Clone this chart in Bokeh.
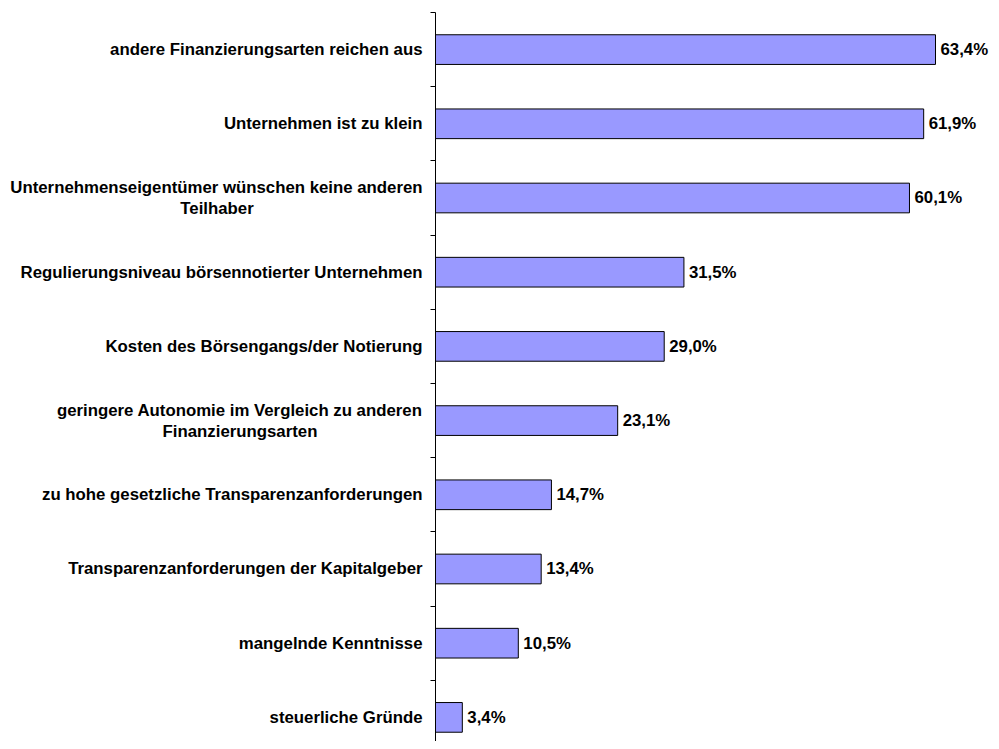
from bokeh.plotting import figure
from bokeh.models import Range1d, FixedTicker, ColumnDataSource
from bokeh.core.properties import value
from bokeh.embed import file_html
from bokeh.resources import INLINE

categories = [
    "andere Finanzierungsarten reichen aus",
    "Unternehmen ist zu klein",
    "Unternehmenseigentümer wünschen keine anderen\nTeilhaber",
    "Regulierungsniveau börsennotierter Unternehmen",
    "Kosten des Börsengangs/der Notierung",
    "geringere Autonomie im Vergleich zu anderen\nFinanzierungsarten",
    "zu hohe gesetzliche Transparenzanforderungen",
    "Transparenzanforderungen der Kapitalgeber",
    "mangelnde Kenntnisse",
    "steuerliche Gründe",
]
values = [63.4, 61.9, 60.1, 31.5, 29.0, 23.1, 14.7, 13.4, 10.5, 3.4]
value_labels = ["63,4%", "61,9%", "60,1%", "31,5%", "29,0%", "23,1%", "14,7%", "13,4%", "10,5%", "3,4%"]

FONT = "Liberation Sans"
FS = "16.8px"
STANDOFF = 13          # gap between label block and axis (px)
LINE_GAP = 10.5        # half line spacing for two-line labels (px)
# rendered width (px) of the first line of the two-line labels, to centre the second line under it
FIRST_LINE_WIDTH = {2: 411, 5: 365}

pos = list(range(len(categories)))
src = ColumnDataSource(dict(y=pos, v=values, lab=value_labels))

# category label lines (first line right-aligned, second line centred under the first)
l1_y, l1_t, l1_off = [], [], []
l2_y, l2_t, l2_xoff = [], [], []
for i, c in zip(pos, categories):
    parts = c.split("\n")
    l1_y.append(i)
    l1_t.append(parts[0])
    l1_off.append(-LINE_GAP if len(parts) > 1 else 0)
    if len(parts) > 1:
        l2_y.append(i)
        l2_t.append(parts[1])
        l2_xoff.append(-(STANDOFF + FIRST_LINE_WIDTH[i] / 2))
src1 = ColumnDataSource(dict(x=[0] * len(l1_y), y=l1_y, t=l1_t, yo=l1_off))
src2 = ColumnDataSource(dict(x=[0] * len(l2_y), y=l2_y, t=l2_t, xo=l2_xoff))

p = figure(width=991, height=741, output_backend="svg", toolbar_location=None,
           x_range=Range1d(0, 70.5), y_range=Range1d(9.325, -0.5),
           x_axis_location=None, min_border_left=435, min_border_right=0,
           min_border_top=12, min_border_bottom=0)
p.outline_line_color = None
p.xgrid.visible = False
p.ygrid.visible = False

p.hbar(y="y", left=0, right="v", height=0.40, source=src,
       fill_color="#9999FF", line_color="black", line_width=1)

p.text(x="v", y="y", text="lab", source=src, x_offset=5,
       text_font=value(FONT), text_font_style="bold", text_font_size=FS,
       text_baseline="middle", text_align="left", text_color="black")

txt1 = p.text(x="x", y="y", text="t", source=src1, x_offset=-STANDOFF, y_offset="yo",
              text_font=value(FONT), text_font_style="bold", text_font_size=FS,
              text_baseline="middle", text_align="right", text_color="black")
txt2 = p.text(x="x", y="y", text="t", source=src2, x_offset="xo", y_offset=LINE_GAP,
              text_font=value(FONT), text_font_style="bold", text_font_size=FS,
              text_baseline="middle", text_align="center", text_color="black")
txt1.level = "overlay"
txt2.level = "overlay"

ax = p.yaxis[0]
ax.ticker = FixedTicker(ticks=[], minor_ticks=[i - 0.5 for i in pos])
ax.major_label_text_font_size = "1px"
ax.major_tick_out = 0
ax.major_tick_in = 0
ax.minor_tick_out = 5
ax.minor_tick_in = 0
ax.minor_tick_line_color = "black"
ax.axis_line_color = "black"
ax.axis_line_width = 1

open("out.html", "w").write(file_html(p, INLINE))
